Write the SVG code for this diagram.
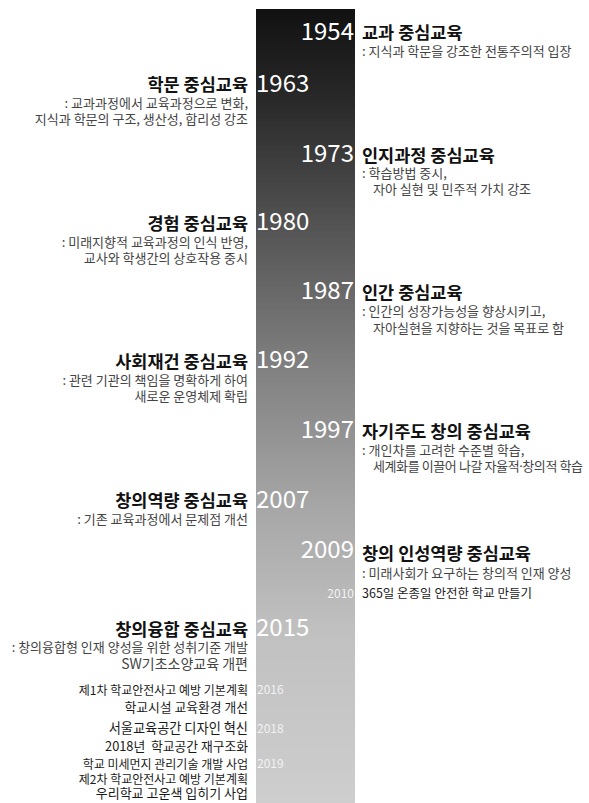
<svg xmlns="http://www.w3.org/2000/svg" width="589" height="803" viewBox="0 0 589 803">
<defs>
<linearGradient id="bar" x1="0" y1="0" x2="0" y2="1">
<stop offset="0" stop-color="#111111"/>
<stop offset="0.12" stop-color="#2a2a2a"/>
<stop offset="0.28" stop-color="#555555"/>
<stop offset="0.45" stop-color="#808080"/>
<stop offset="0.62" stop-color="#a5a5a5"/>
<stop offset="0.78" stop-color="#c0c0c0"/>
<stop offset="1" stop-color="#cecece"/>
</linearGradient>
<style>
text{font-family:"Noto Sans CJK KR","Noto Sans",sans-serif;}
.yr{font-size:24px;fill:#ffffff;}
.yrs{font-size:12px;fill:#f2f2f2;}
.t{font-size:17.5px;font-weight:bold;fill:#111111;}
.d{font-size:13px;fill:#444444;}
.e{font-size:12.5px;fill:#1a1a1a;}
.r{text-anchor:end;}
.lat{font-family:"Noto Sans",sans-serif;}
</style>
</defs>
<rect id="timeline-bar" x="256" y="9" width="99" height="794" fill="url(#bar)"/>

<g id="y1954">
<text class="yr r" x="354" y="40">1954</text>
<text class="t" x="362" y="39">교과 중심교육</text>
<text class="d" x="362" y="56">: 지식과 학문을 강조한 전통주의적 입장</text>
</g>
<g id="y1963">
<text class="yr" x="256" y="92">1963</text>
<text class="t r" x="248" y="91">학문 중심교육</text>
<text class="d r" x="248" y="108">: 교과과정에서 교육과정으로 변화,</text>
<text class="d r" x="248" y="124">지식과 학문의 구조, 생산성, 합리성 강조</text>
</g>
<g id="y1973">
<text class="yr r" x="354" y="162">1973</text>
<text class="t" x="362" y="162">인지과정 중심교육</text>
<text class="d" x="362" y="178">: 학습방법 중시,</text>
<text class="d" x="373" y="194">자아 실현 및 민주적 가치 강조</text>
</g>
<g id="y1980">
<text class="yr" x="256" y="230">1980</text>
<text class="t r" x="248" y="230">경험 중심교육</text>
<text class="d r" x="248" y="247">: 미래지향적 교육과정의 인식 반영,</text>
<text class="d r" x="248" y="263">교사와 학생간의 상호작용 중시</text>
</g>
<g id="y1987">
<text class="yr r" x="354" y="299">1987</text>
<text class="t" x="362" y="299">인간 중심교육</text>
<text class="d" x="362" y="316">: 인간의 성장가능성을 향상시키고,</text>
<text class="d" x="373" y="333">자아실현을 지향하는 것을 목표로 함</text>
</g>
<g id="y1992">
<text class="yr" x="256" y="368">1992</text>
<text class="t r" x="248" y="368">사회재건 중심교육</text>
<text class="d r" x="248" y="385">: 관련 기관의 책임을 명확하게 하여</text>
<text class="d r" x="248" y="401">새로운 운영체제 확립</text>
</g>
<g id="y1997">
<text class="yr r" x="354" y="438">1997</text>
<text class="t" x="362" y="438">자기주도 창의 중심교육</text>
<text class="d" x="362" y="455">: 개인차를 고려한 수준별 학습,</text>
<text class="d" x="373" y="471" textLength="210">세계화를 이끌어 나갈 자율적<tspan class="lat">·</tspan>창의적 학습</text>
</g>
<g id="y2007">
<text class="yr" x="256" y="508">2007</text>
<text class="t r" x="248" y="507">창의역량 중심교육</text>
<text class="d r" x="248" y="524">: 기존 교육과정에서 문제점 개선</text>
</g>
<g id="y2009">
<text class="yr r" x="354" y="558">2009</text>
<text class="t" x="362" y="560">창의 인성역량 중심교육</text>
<text class="d" x="362" y="578">: 미래사회가 요구하는 창의적 인재 양성</text>
</g>
<g id="y2010">
<text class="yrs r" x="354" y="598">2010</text>
<text class="e" x="362" y="598">365일 온종일 안전한 학교 만들기</text>
</g>
<g id="y2015">
<text class="yr" x="256" y="636">2015</text>
<text class="t r" x="248" y="636">창의융합 중심교육</text>
<text class="d r" x="248" y="652">: 창의융합형 인재 양성을 위한 성취기준 개발</text>
<text class="d r" x="248" y="669" style="font-size:14px">SW기초소양교육 개편</text>
</g>
<g id="y2016">
<text class="yrs" x="257" y="694">2016</text>
<text class="e r" x="248" y="695" style="font-size:12px">제1차 학교안전사고 예방 기본계획</text>
<text class="e r" x="248" y="712" style="font-size:12.8px">학교시설 교육환경 개선</text>
</g>
<g id="y2018">
<text class="yrs" x="257" y="733">2018</text>
<text class="e r" x="248" y="733" style="font-size:13.2px">서울교육공간 디자인 혁신</text>
<text class="e r" x="248" y="751" style="font-size:12.8px" xml:space="preserve">2018년  학교공간 재구조화</text>
</g>
<g id="y2019">
<text class="yrs" x="257" y="768">2019</text>
<text class="e r" x="248" y="769" style="font-size:12px">학교 미세먼지 관리기술 개발 사업</text>
<text class="e r" x="248" y="784" style="font-size:12px">제2차 학교안전사고 예방 기본계획</text>
<text class="e r" x="248" y="798" style="font-size:13px">우리학교 고운색 입히기 사업</text>
</g>
</svg>
